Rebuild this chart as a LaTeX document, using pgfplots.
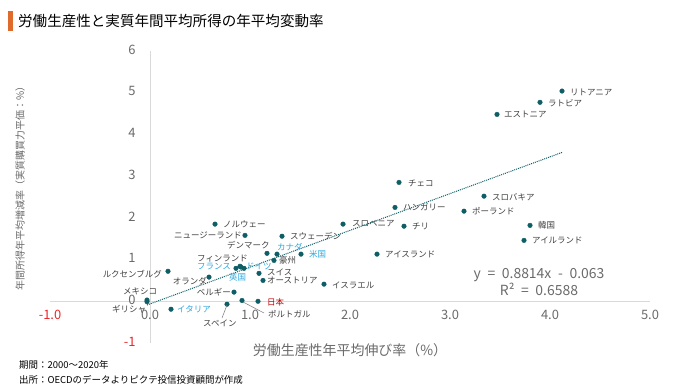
\documentclass[border=0pt]{standalone}
\usepackage{fontspec}
\setmainfont{Noto Sans CJK JP}
\usepackage{pgfplots}
\pgfplotsset{compat=1.18}
\definecolor{pt}{HTML}{0E5E66}
\definecolor{lbl}{HTML}{404040}
\definecolor{blu}{HTML}{2AA7DF}
\definecolor{jred}{HTML}{C00000}
\definecolor{tk}{HTML}{6A6A6A}
\definecolor{neg}{HTML}{E8282B}
\definecolor{ax}{HTML}{D9D9D9}
\definecolor{orng}{HTML}{E06A2C}
\newcommand\lf{\fontsize{8.5}{9}\selectfont}
\newcommand\labW[4][lbl]{\node[anchor=west,inner sep=0pt,text=#1,font=\lf] at (#2,388-#3) {#4};}
\newcommand\labE[4][lbl]{\node[anchor=east,inner sep=0pt,text=#1,font=\lf] at (#2,388-#3) {#4};}
\newcommand\gap{\hspace{3.5bp}}
\begin{document}
\begin{tikzpicture}[x=1bp,y=1bp]
\path[use as bounding box] (0,0) rectangle (680,388);
\begin{axis}[at={(50bp,45bp)}, anchor=south west, scale only axis,
  width=600bp, height=292bp,
  xmin=-1, xmax=5, ymin=-1, ymax=6,
  axis lines=middle,
  axis line style={draw=ax, line width=0.9bp},
  every inner x axis line/.append style={-},
  every inner y axis line/.append style={-},
  hide obscured x ticks=false, hide obscured y ticks=false,
  xtick={-1,0,1,2,3,4,5},
  xticklabels={{\color{neg}-1.0},0.0,1.0,2.0,3.0,4.0,5.0},
  ytick={-1,0,1,2,3,4,5,6},
  yticklabels={{\color{neg}-1},0,1,2,3,4,5,6},
  major tick length=0,
  tick label style={font=\fontsize{13}{13}\selectfont, text=tk},
  xticklabel style={yshift=-5bp},
  yticklabel style={xshift=-11bp, yshift=1.5bp},
  clip=false]
\addplot[pt, densely dotted, line width=1bp] coordinates {(-0.03,-0.089) (4.12,3.568)};
\addplot[only marks, mark=*, mark size=2.3bp, color=pt] table {
x y
4.12 5.04
3.90 4.77
3.47 4.48
2.49 2.85
3.34 2.52
2.45 2.25
3.14 2.16
1.93 1.85
2.54 1.80
3.80 1.82
3.74 1.46
2.27 1.13
0.65 1.85
0.95 1.58
1.32 1.56
1.17 1.15
1.27 1.13
1.51 1.13
1.24 0.98
0.90 0.84
0.86 0.79
0.94 0.79
0.91 0.82
1.09 0.67
1.13 0.50
1.74 0.41
0.59 0.58
0.18 0.72
0.84 0.22
-0.03 0.03
-0.03 -0.01
0.21 -0.19
0.77 -0.07
0.92 0.02
1.08 0.00
};
\end{axis}
% title
\fill[orng] (8,388-31) rectangle (13,388-11);
\node[anchor=west,inner sep=0pt,font=\fontsize{14.6}{15}\selectfont] at (18,388-21) {労働生産性と実質年間平均所得の年平均変動率};
% axis titles
\node[rotate=90,inner sep=0pt,font=\fontsize{10}{10}\selectfont,text=tk] at (20,388-186) {年間所得年平均増減率（実質購買力平価：\%）};
\node[inner sep=0pt,font=\fontsize{14}{14}\selectfont,text=tk] at (350,388-350) {労働生産性年平均伸び率（\%）};
% footnotes
\node[anchor=west,inner sep=0pt,font=\fontsize{9.5}{10}\selectfont] at (19,388-365) {期間：2000～2020年};
\node[anchor=west,inner sep=0pt,font=\fontsize{9.5}{10}\selectfont] at (19,388-380) {出所：OECDのデータよりピクテ投信投資顧問が作成};
% regression
\node[inner sep=0pt,font=\fontsize{14}{14}\selectfont,text=tk] at (539,388-275) {y\gap{} =\gap{} 0.8814x\gap{} -\gap{} 0.063};
\node[inner sep=0pt,font=\fontsize{14}{14}\selectfont,text=tk] at (539,388-289) {R²\gap{} =\gap{} 0.6588};
% point labels
\labW{570}{92}{リトアニア}
\labW{548}{103}{ラトビア}
\labW{504}{114}{エストニア}
\labW{408}{183}{チェコ}
\labW{492}{197}{スロバキア}
\labW{403}{207}{ハンガリー}
\labW{472}{211}{ポーランド}
\labW{412}{226}{チリ}
\labW{538}{225}{韓国}
\labW{532}{240}{アイルランド}
\labW{352}{224}{スロベニア}
\labW{385}{254}{アイスランド}
\labW{223}{224}{ノルウェー}
\labE{242}{235}{ニュージーランド}
\labW{290}{236}{スウェーデン}
\labW{227}{245}{デンマーク}
\labW[blu]{277}{247}{カナダ}
\labW[blu]{309}{254}{米国}
\labW{279}{260}{豪州}
\labW{197}{259}{フィンランド}
\labW[blu]{197}{267}{フランス}
\labW[blu]{246}{266}{ドイツ}
\labW[blu]{229}{277}{英国}
\labW{267}{272}{スイス}
\labW{267}{280}{オーストリア}
\labW{332}{285}{イスラエル}
\labE{207}{281}{オランダ}
\labE{162}{274}{ルクセンブルグ}
\labE{231}{292}{ベルギー}
\labW{123}{291}{メキシコ}
\labW{112}{309}{ギリシャ}
\labW[blu]{177}{309}{イタリア}
\labW{203}{323}{スペイン}
\labW{268}{314}{ポルトガル}
\labW[jred]{267}{302}{日本}
\draw[lbl!70,line width=0.5bp] (227,388-305) -- (222,388-318);
\draw[lbl!70,line width=0.5bp] (243,388-302) -- (264,388-313);
\end{tikzpicture}
\end{document}
